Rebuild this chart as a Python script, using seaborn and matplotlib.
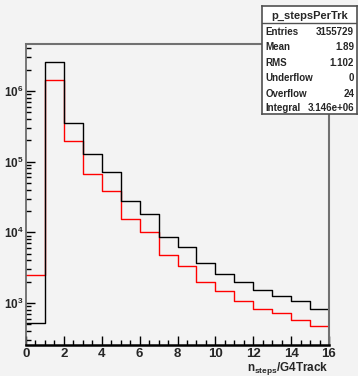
import numpy as np
import pandas as pd
import matplotlib
matplotlib.use("Agg")
import matplotlib.pyplot as plt
import seaborn as sns

# bin edges 0..16, one value per bin
bin_lo = list(range(16))
steps_black = [521, 2.57e6, 3.53e5, 1.26e5, 71300, 27700, 18200, 8590,
               6200, 3680, 2570, 1980, 1530, 1260, 1070, 822]
steps_red = [2490, 1.43e6, 1.96e5, 67600, 38400, 15400, 10100, 4770,
             3330, 1980, 1480, 1070, 822, 722, 575, 473]

stats_names = ["Entries", "Mean", "RMS", "Underflow", "Overflow", "Integral"]
stats_values = ["3155729", "1.89", "1.102", "0", "24", "3.146e+06"]

df = pd.DataFrame({
    "x": [b + 0.5 for b in bin_lo] * 2,
    "w": steps_black + steps_red,
    "set": ["all"] * 16 + ["sel"] * 16,
})

sns.set_style("ticks")
plt.rcParams["font.family"] = ["Liberation Sans", "DejaVu Sans"]
plt.rcParams["mathtext.fontset"] = "custom"
plt.rcParams["mathtext.bf"] = "Liberation Sans:bold"
plt.rcParams["mathtext.rm"] = "Liberation Sans:bold"
bg = "#f3f3f3"

fig = plt.figure(figsize=(3.58, 3.76), dpi=100, facecolor=bg)
ax = fig.add_axes([26 / 358, 1 - 345 / 376, 303 / 358, 301 / 376])
ax.set_facecolor(bg)

sns.histplot(data=df, x="x", weights="w", hue="set", bins=16, binrange=(0, 16),
             element="step", fill=False, palette={"all": "black", "sel": "red"},
             linewidth=1, legend=False, ax=ax)
ax.set_yscale("log")
ax.set_xlim(0, 16)
ax.set_ylim(255, 4.6e6)

# ROOT-like frame and ticks
for s in ["top", "right"]:
    ax.spines[s].set_visible(True)
    ax.spines[s].set_color("#707070")
    ax.spines[s].set_linewidth(1.5)
ax.spines["left"].set_color("#606060")
ax.spines["left"].set_linewidth(1.2)
ax.spines["bottom"].set_color("black")
ax.spines["bottom"].set_linewidth(1.8)

ax.set_xticks(range(0, 17, 2))
ax.set_xticks(np.arange(0, 16.01, 0.5), minor=True)
ax.set_yticks([1e3, 1e4, 1e5, 1e6])
ax.set_yticklabels([r"$\mathbf{10^{%d}}$" % p for p in [3, 4, 5, 6]])
ax.tick_params(axis="both", which="major", direction="in", length=6.5, width=1,
               color="black", labelsize=9.5)
ax.tick_params(axis="both", which="minor", direction="in", length=3.6, width=1,
               color="black")
ax.tick_params(axis="x", pad=2)
ax.tick_params(axis="y", pad=2, labelsize=8.5)
for lbl in ax.get_xticklabels():
    lbl.set_fontweight("bold")

ax.set_ylabel("")
ax.set_xlabel(r"n$_{\mathbf{steps}}$/G4Track", loc="right", fontsize=8.5,
              fontweight="bold", labelpad=0.5)

# stats box
box = fig.add_axes([262 / 358, 1 - 114 / 376, 95 / 358, 108 / 376])
box.set_xlim(0, 1)
box.set_ylim(0, 1)
box.set_xticks([])
box.set_yticks([])
box.set_facecolor("white")
for s in box.spines.values():
    s.set_color("#505050")
    s.set_linewidth(1.2)
box.axhline(1 - 17 / 108, color="#505050", lw=1)
box.text(0.5, 1 - 10 / 108, "p_stepsPerTrk", ha="center", va="center",
         fontsize=8, fontweight="bold")
row_y = [26, 41, 57, 72, 88, 102]
for name, val, yy in zip(stats_names, stats_values, row_y):
    box.text(0.04, 1 - yy / 108, name, ha="left", va="center", fontsize=7,
             fontweight="bold")
    box.text(0.97, 1 - yy / 108, val, ha="right", va="center", fontsize=7,
             fontweight="bold")

fig.savefig("out.png", dpi=100, facecolor=bg)
